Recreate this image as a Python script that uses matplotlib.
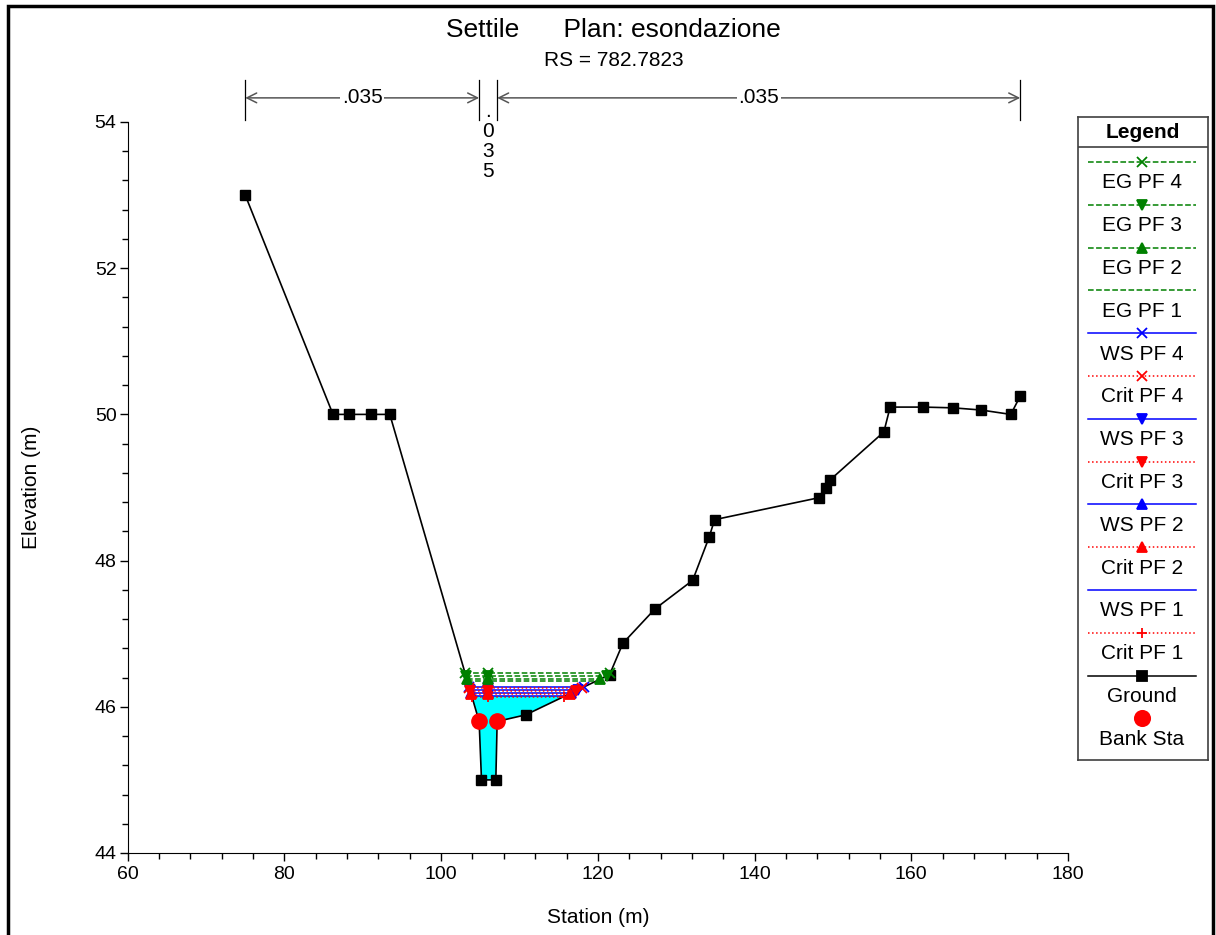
import matplotlib
matplotlib.use("Agg")
import matplotlib.pyplot as plt
import numpy as np
from matplotlib.ticker import MultipleLocator
from matplotlib.patches import Rectangle

plt.rcParams['font.family'] = ['Liberation Sans', 'DejaVu Sans']

# cross section RS 782.7823
ground_sta = [75.0, 86.2, 88.2, 91.0, 93.45, 104.85, 105.15, 106.98, 107.15, 110.8,
              121.5, 123.2, 127.3, 132.1, 134.2, 134.9, 148.2, 149.1, 149.6, 156.5,
              157.3, 161.5, 165.3, 168.9, 172.7, 173.9]
ground_elev = [53.0, 50.0, 50.0, 50.0, 50.0, 45.8, 45.0, 45.0, 45.8, 45.89,
               46.44, 46.87, 47.34, 47.73, 48.32, 48.56, 48.86, 48.99, 49.1, 49.76,
               50.1, 50.1, 50.09, 50.06, 50.0, 50.25]
bank_sta = [104.85, 107.15]
bank_elev = [45.8, 45.8]

# profiles PF 1..PF 4
profiles = ['PF 1', 'PF 2', 'PF 3', 'PF 4']
eg_elev = [46.35, 46.38, 46.42, 46.46]
ws_elev = [46.15, 46.19, 46.23, 46.27]
crit_elev = [46.14, 46.18, 46.22, 46.26]
eg_markers = [None, '^', 'v', 'x']
ws_markers = [None, '^', 'v', 'x']
crit_markers = ['+', '^', 'v', 'x']

n_values = ['.035', '.035', '.035']

EG_C = '#008000'
WS_C = '#0000FF'
CR_C = '#FF0000'

sta = np.array(ground_sta)
elev = np.array(ground_elev)


def wet_extent(z):
    i0 = int(np.argmin(elev))
    i = i0
    while elev[i - 1] < z:
        i -= 1
    xl = np.interp(z, [elev[i], elev[i - 1]], [sta[i], sta[i - 1]])
    j = i0
    while elev[j + 1] < z:
        j += 1
    xr = np.interp(z, [elev[j], elev[j + 1]], [sta[j], sta[j + 1]])
    return xl, xr, i, j


fig = plt.figure(figsize=(12.16, 9.35), dpi=100)
ax = fig.add_axes([127.7 / 1216, 1 - 853 / 935, 940.3 / 1216, 731 / 935])

# water fill at lowest WS
xl, xr, i, j = wet_extent(ws_elev[0])
poly_x = [xl] + list(sta[i:j + 1]) + [xr]
poly_y = [ws_elev[0]] + list(elev[i:j + 1]) + [ws_elev[0]]
ax.fill(poly_x, poly_y, color='#00FFFF', zorder=1, lw=0)

ax.plot(ground_sta, ground_elev, color='black', lw=1.2, marker='s', ms=6.5, zorder=2)

mid = np.mean(bank_sta)


def water_line(z, color, ls, marker, zo):
    a, b, _, _ = wet_extent(z)
    xs = [a, mid, b]
    ax.plot(xs, [z] * 3, color=color, ls=ls, lw=1.1, marker=marker, ms=7,
            mew=1.3, zorder=zo)


for k in range(4):
    water_line(ws_elev[k], WS_C, '-', ws_markers[k], 3)
    water_line(crit_elev[k], CR_C, ':', crit_markers[k], 4)
    water_line(eg_elev[k], EG_C, '--', eg_markers[k], 5)

ax.plot(bank_sta, bank_elev, ls='none', marker='o', color=CR_C, ms=11, zorder=6)

ax.set_xlim(60, 180)
ax.set_ylim(44, 54)
ax.set_xticks(np.arange(60, 181, 20))
ax.set_yticks(np.arange(44, 55, 2))
ax.xaxis.set_minor_locator(MultipleLocator(4))
ax.yaxis.set_minor_locator(MultipleLocator(0.4))
ax.tick_params(which='major', direction='out', length=6, width=1, labelsize=14)
ax.tick_params(which='minor', direction='out', length=4, width=1)
ax.tick_params(axis='y', pad=2)
ax.spines['top'].set_visible(False)
ax.spines['right'].set_visible(False)
ax.set_xlabel('Station (m)', fontsize=15)
ax.set_ylabel('Elevation (m)', fontsize=15)
ax.xaxis.set_label_coords(0.5, -0.075)
ax.yaxis.set_label_coords(-0.092, 0.5)

# Manning n brackets
breaks = [ground_sta[0]] + bank_sta + [ground_sta[-1]]
y_arrow = 54.33
for b in breaks:
    ax.plot([b, b], [54.03, 54.57], color='black', lw=0.9, clip_on=False)
for k in range(3):
    a, b = breaks[k], breaks[k + 1]
    c = (a + b) / 2
    if b - a > 5:
        ax.annotate('', xy=(a, y_arrow), xytext=(b, y_arrow),
                    arrowprops=dict(arrowstyle='<->,head_length=0.7,head_width=0.35',
                                    color='#555555', lw=1.1, shrinkA=0, shrinkB=0),
                    annotation_clip=False)
        ax.text(c, y_arrow, n_values[k], ha='center', va='center', fontsize=15,
                bbox=dict(fc='white', ec='none', pad=1), clip_on=False)
    else:
        ax.text(c, y_arrow - 0.06, '\n'.join(n_values[k]), ha='center', va='top',
                fontsize=15, linespacing=1.05, clip_on=False)

fig.text(613 / 1216, 1 - 30 / 935, 'Settile      Plan: esondazione',
         ha='center', va='center', fontsize=19)
fig.text(614 / 1216, 1 - 60 / 935, 'RS = 782.7823',
         ha='center', va='center', fontsize=15)

# legend box
leg = fig.add_axes([1078 / 1216, 1 - 760 / 935, 130 / 1216, 643 / 935])
leg.set_xlim(0, 130)
leg.set_ylim(643, 0)
leg.set_xticks([])
leg.set_yticks([])
for s in leg.spines.values():
    s.set_color('#404040')
    s.set_linewidth(1.2)
leg.axhline(30, color='#404040', lw=1.2)
leg.text(65, 15, 'Legend', ha='center', va='center', fontsize=15, fontweight='bold')

entries = []
for k in [3, 2, 1, 0]:
    entries.append(('EG ' + profiles[k], EG_C, '--', eg_markers[k]))
for k in [3, 2, 1, 0]:
    entries.append(('WS ' + profiles[k], WS_C, '-', ws_markers[k]))
    entries.append(('Crit ' + profiles[k], CR_C, ':', crit_markers[k]))
entries.append(('Ground', 'black', '-', 's'))
entries.append(('Bank Sta', CR_C, None, 'o'))

for k, (label, color, ls, marker) in enumerate(entries):
    y = 45 + k * 42.8
    if ls is not None:
        leg.plot([10, 118], [y, y], color=color, ls=ls, lw=1.1)
    if marker is not None:
        ms = 11 if marker == 'o' else 7
        leg.plot([64], [y], color=color, marker=marker, ms=ms, mew=1.3)
    leg.text(64, y + 21, label, ha='center', va='center', fontsize=15)

fig.add_artist(Rectangle((8 / 1216, -0.05), 1205 / 1216, 1.05 - 6 / 935,
                         transform=fig.transFigure, fill=False, ec='black', lw=2.5))

fig.savefig('out.png', dpi=100)
